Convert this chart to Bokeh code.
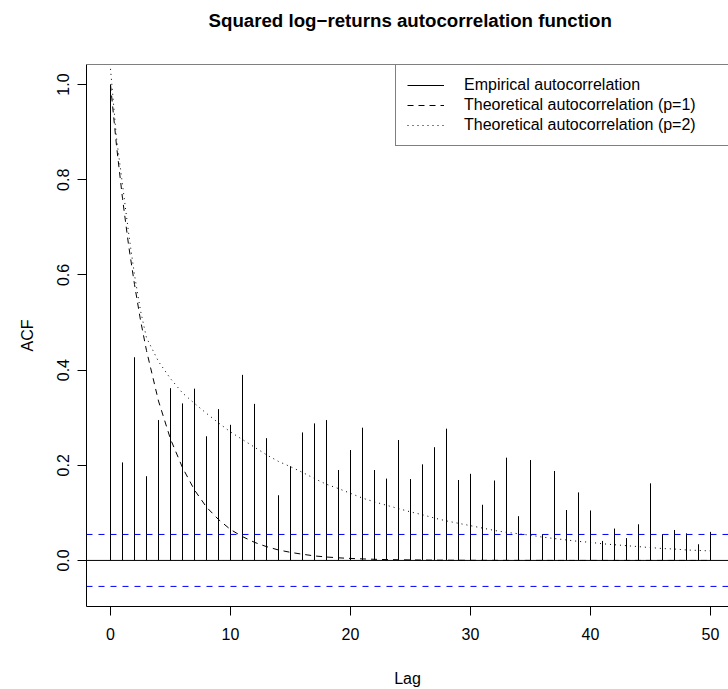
from bokeh.plotting import figure
from bokeh.models import Range1d, FixedTicker, PrintfTickFormatter, Span, Legend, LegendItem, Title
from bokeh.embed import file_html
from bokeh.resources import INLINE

# ---- data ----
lags = list(range(51))
acf = [1.0, 0.206, 0.427, 0.177, 0.295, 0.362, 0.330, 0.361, 0.261, 0.318,
       0.285, 0.390, 0.329, 0.257, 0.137, 0.198, 0.269, 0.288, 0.295, 0.190,
       0.232, 0.279, 0.190, 0.172, 0.253, 0.171, 0.202, 0.238, 0.277, 0.169,
       0.182, 0.117, 0.168, 0.216, 0.093, 0.211, 0.055, 0.188, 0.106, 0.143,
       0.105, 0.041, 0.067, 0.047, 0.076, 0.162, 0.055, 0.064, 0.057, 0.034,
       0.060]

theory_lags = [0, 0.5, 1, 1.5, 2, 2.5, 3] + list(range(4, 51))
theory_p1 = [1.0, 0.872, 0.761, 0.664, 0.580, 0.505, 0.441,
             0.335, 0.255, 0.195, 0.148, 0.112, 0.086, 0.065, 0.050, 0.038, 0.029,
             0.022, 0.017, 0.013, 0.0095, 0.0072, 0.0055, 0.0042, 0.0032, 0.0024, 0.0018,
             0.0014, 0.0011, 0.0008, 0.0006, 0.0005, 0.0004, 0.0003,
             0.0002, 0.0002, 0.0001, 0.0001, 0.0001, 0.0001,
             0.0, 0.0, 0.0, 0.0, 0.0, 0.0, 0.0, 0.0, 0.0, 0.0, 0.0, 0.0, 0.0, 0.0]
theory_p2 = [1.033, 0.888, 0.790, 0.690, 0.600, 0.525, 0.468,
             0.418, 0.382, 0.352, 0.330, 0.309, 0.289, 0.270, 0.254, 0.238, 0.222,
             0.208, 0.197, 0.185, 0.172, 0.160, 0.151, 0.141, 0.131, 0.123, 0.116,
             0.109, 0.102, 0.096, 0.089, 0.083, 0.078, 0.073, 0.068, 0.063, 0.059,
             0.056, 0.053, 0.049, 0.046, 0.043, 0.040, 0.038, 0.035, 0.033, 0.031,
             0.029, 0.027, 0.025, 0.024, 0.022, 0.021, 0.020]
conf_limit = 0.0546

x_ticks = [0, 10, 20, 30, 40, 50]
y_ticks = [0.0, 0.2, 0.4, 0.6, 0.8, 1.0]
legend_labels = ["Empirical autocorrelation",
                 "Theoretical autocorrelation (p=1)",
                 "Theoretical autocorrelation (p=2)"]
title_text = "Squared log\u2212returns autocorrelation function"

FONT = "Liberation Sans"
Y0, Y1 = -0.0968, 1.0422

p = figure(width=728, height=689, output_backend="svg", toolbar_location=None,
           x_range=Range1d(-2.0, 51.5), y_range=Range1d(Y0, Y1),
           min_border_left=86, min_border_right=0, min_border_top=64,
           min_border_bottom=82, title=title_text)

p.title.text_font = FONT
p.title.text_font_size = "18.7px"
p.title.text_font_style = "bold"
p.title.text_color = "black"
p.title.align = "left"
p.title.offset = 122
# spacer between title and plot box
p.add_layout(Title(text=" ", text_font_size="16px"), "above")

p.background_fill_color = "white"
p.border_fill_color = "white"
p.outline_line_color = None
p.xgrid.visible = False
p.ygrid.visible = False

p.xaxis.ticker = FixedTicker(ticks=x_ticks)
p.yaxis.ticker = FixedTicker(ticks=y_ticks)
p.yaxis.formatter = PrintfTickFormatter(format="%.1f")
p.yaxis.major_label_orientation = "vertical"
for ax in (p.xaxis, p.yaxis):
    ax.major_tick_in = 0
    ax.major_tick_out = 9
    ax.minor_tick_line_color = None
    ax.axis_line_color = "black"
    ax.major_tick_line_color = "black"
    ax.major_label_text_font = FONT
    ax.major_label_text_font_size = "16px"
    ax.major_label_text_color = "black"
    ax.axis_label_text_font = FONT
    ax.axis_label_text_font_size = "16px"
    ax.axis_label_text_font_style = "normal"
    ax.axis_label_text_color = "black"
p.xaxis.axis_label = "Lag"
p.yaxis.axis_label = "ACF"
p.xaxis.major_label_standoff = 12
p.xaxis.axis_label_standoff = 27
p.yaxis.major_label_standoff = 8
p.yaxis.axis_label_standoff = 19

# top edge of the plot box
p.add_layout(Span(location=Y1, dimension="width", line_color="black", line_width=1))

# zero line and confidence bounds
p.add_layout(Span(location=0, dimension="width", line_color="black", line_width=1))
p.add_layout(Span(location=conf_limit, dimension="width", line_color="#0000FF",
                  line_width=1, line_dash="6 6"))
p.add_layout(Span(location=-conf_limit, dimension="width", line_color="#0000FF",
                  line_width=1, line_dash="6 6"))

zeros = [0] * len(lags)
r_emp = p.segment(x0=lags, y0=zeros, x1=lags, y1=acf, line_color="black", line_width=1)
r_p1 = p.line(theory_lags, theory_p1, line_color="black", line_width=1, line_dash="6 5")
r_p2 = p.line(theory_lags, theory_p2, line_color="black", line_width=1, line_dash="1 4")

legend = Legend(items=[LegendItem(label=legend_labels[0], renderers=[r_emp]),
                       LegendItem(label=legend_labels[1], renderers=[r_p1]),
                       LegendItem(label=legend_labels[2], renderers=[r_p2])],
                location=(309, 460), padding=11, spacing=2, margin=0,
                glyph_width=37, glyph_height=16, label_standoff=20,
                label_width=320, label_height=16,
                label_text_font=FONT, label_text_font_size="16px",
                label_text_color="black",
                border_line_color="black", border_line_width=1,
                background_fill_color="white", background_fill_alpha=1.0)
p.add_layout(legend)

open("out.html", "w").write(file_html(p, INLINE))
